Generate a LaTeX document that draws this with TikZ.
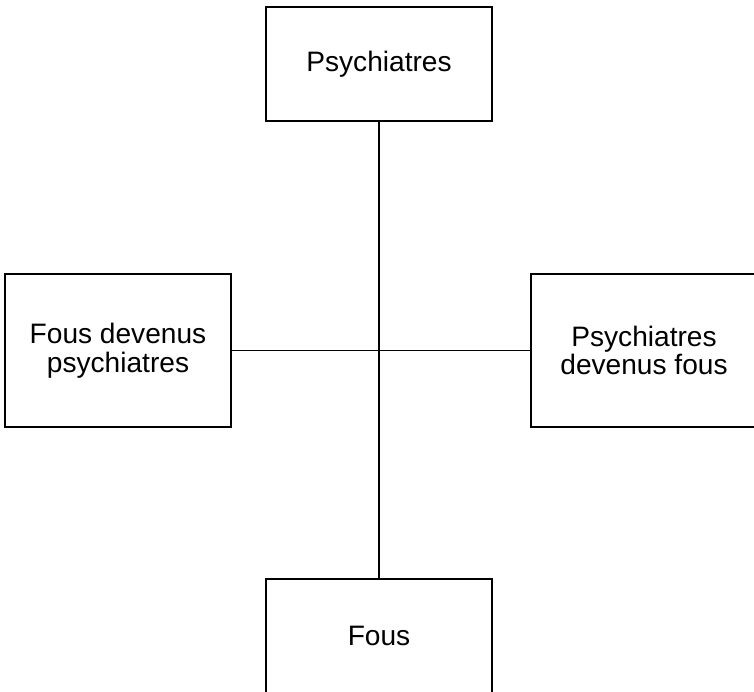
\documentclass[tikz,border=0pt]{standalone}
\usepackage{fontspec}
\setmainfont{Liberation Sans}
\usetikzlibrary{positioning}

\begin{document}
\begin{tikzpicture}[
    x=0.02cm, y=-0.02cm,
    font=\fontsize{16}{16.3}\selectfont,
    boite/.style={draw, line width=1pt, align=center, inner sep=0pt,
        minimum width=4.52cm},
    trait/.style={line width=1pt},
]
\useasboundingbox (0,0) rectangle (754,691);

% axe vertical
\node[boite, minimum height=2.28cm] (haut) at (379,64) {Psychiatres};
\node[boite, minimum height=2.28cm] (bas)  at (379,636) {Fous};

% axe horizontal
\node[boite, minimum height=3.06cm] (gauche) at (118,350.5)
    {Fous devenus\\psychiatres};
\node[boite, minimum height=3.06cm] (droite) at (644,350.5)
    {Psychiatres\\devenus fous};

\draw[trait] (haut) -- (bas);
\draw[trait] (gauche) -- (droite);

\end{tikzpicture}
\end{document}
